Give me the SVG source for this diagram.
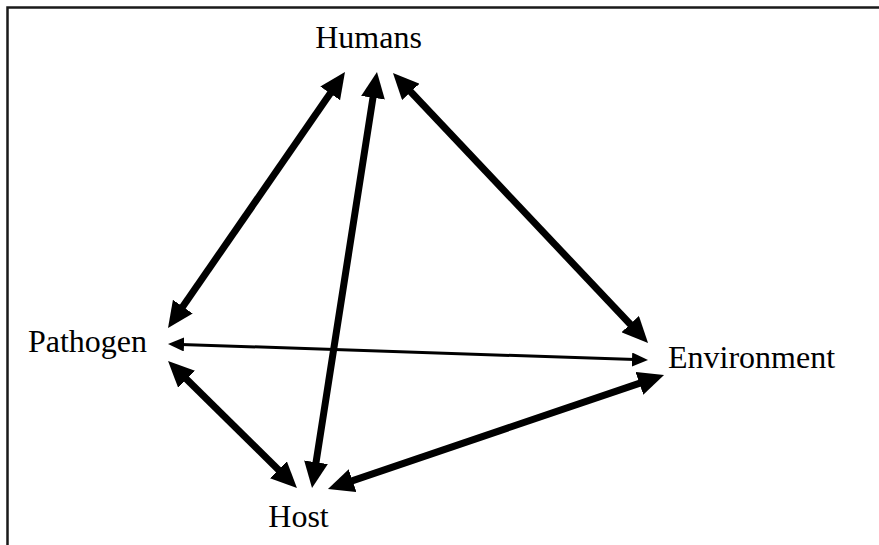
<svg xmlns="http://www.w3.org/2000/svg" width="879" height="545" viewBox="0 0 879 545">
<style>
text{font-family:"Liberation Serif","Times New Roman",serif;font-size:32px;fill:#000;text-anchor:middle}
.thick{stroke:#000;stroke-width:7;fill:none;marker-start:url(#hk);marker-end:url(#hk)}
.thin{stroke:#000;stroke-width:3;fill:none;marker-start:url(#hn);marker-end:url(#hn)}
.frame{stroke:#1a1a1a;stroke-width:2.5;fill:none}
</style>
<defs>
<marker id="hk" markerUnits="userSpaceOnUse" viewBox="0 0 26 24" markerWidth="26" markerHeight="24" refX="6" refY="12" orient="auto-start-reverse"><path d="M0,0 L26,12 L0,24 z" fill="#000"/></marker>
<marker id="hn" markerUnits="userSpaceOnUse" viewBox="0 0 16 14" markerWidth="16" markerHeight="14" refX="3" refY="7" orient="auto-start-reverse"><path d="M0,0 L16,7 L0,14 z" fill="#000"/></marker>
</defs>
<rect width="879" height="545" fill="#fff"/>
<path class="frame" d="M7.5,545 L7.5,7.5 L879,7.5"/>
<g id="connectors">
<line class="thick" x1="333.6" y1="88.5" x2="179.4" y2="311.5"/>
<line class="thick" x1="373.9" y1="91.8" x2="315.1" y2="468.2"/>
<line class="thick" x1="406.7" y1="87.5" x2="634.3" y2="328.5"/>
<line class="thick" x1="182.3" y1="375" x2="282.7" y2="474"/>
<line class="thick" x1="346.9" y1="482.6" x2="645.1" y2="381.4"/>
<line class="thin" x1="181" y1="344.4" x2="635" y2="359.6"/>
</g>
<g id="humans"><text x="368.5" y="48">Humans</text></g>
<g id="pathogen"><text x="87.5" y="352">Pathogen</text></g>
<g id="environment"><text x="751.5" y="368">Environment</text></g>
<g id="host"><text x="298.5" y="527">Host</text></g>
</svg>
